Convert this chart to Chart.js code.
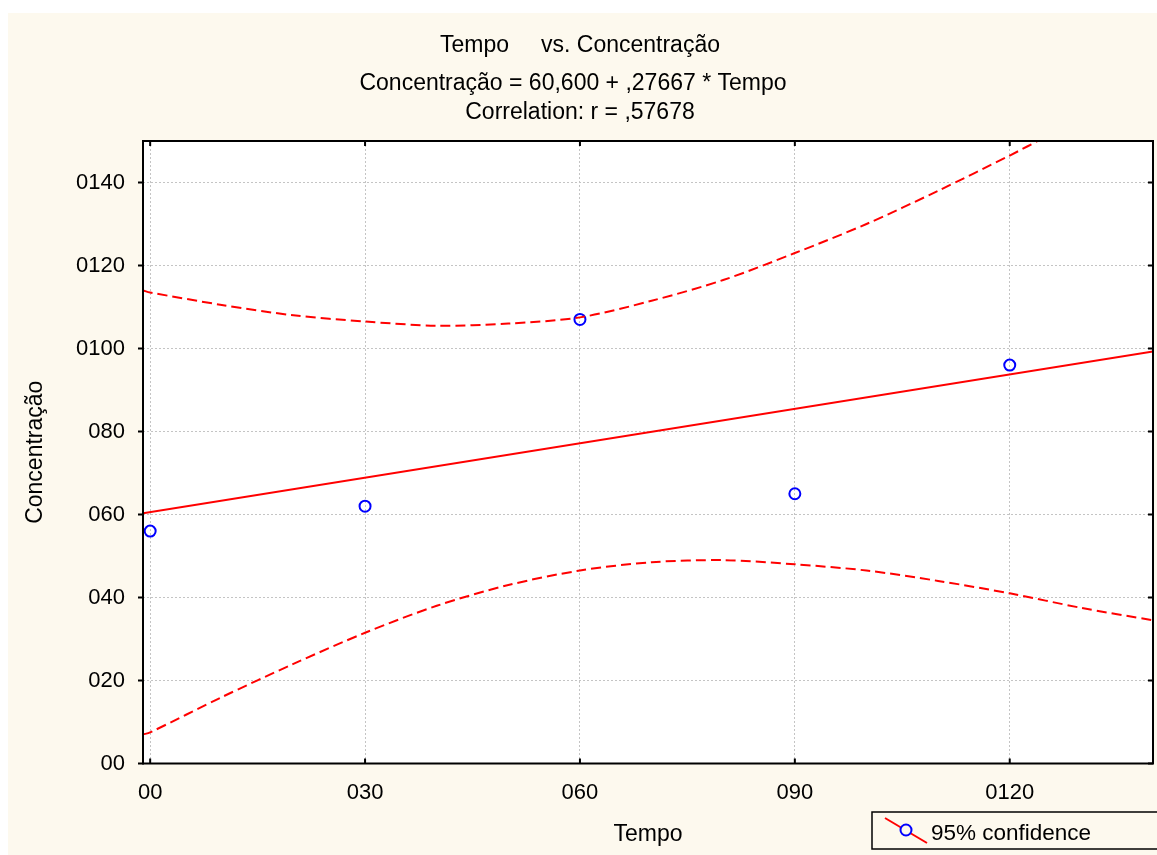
<!DOCTYPE html>
<html>
<head>
<meta charset="utf-8">
<title>Tempo vs. Concentração</title>
<script src="https://cdn.jsdelivr.net/npm/chart.js@4/dist/chart.umd.min.js"></script>
<style>
  html, body { margin: 0; padding: 0; background: #ffffff; }
  canvas { display: block; }
</style>
</head>
<body>
<canvas id="grafico" width="1157" height="855"></canvas>
<script>
// Observações
const tempo = [0, 30, 60, 90, 120];
const concentracao = [56, 62, 107, 65, 96];

// Reta ajustada nos extremos do eixo X
const retaX = [-1, 140];
const retaY = [60.3, 99.3];

// Faixa de confiança de 95% (limite superior e inferior)
const supX = [-1, 0, 10, 20, 30, 40, 50, 60, 70, 80, 90, 100, 110, 120, 125];
const supY = [114, 113.5, 110.5, 108, 106.5, 105.5, 106, 107.5, 111.5, 116.5, 123, 130, 138, 146.5, 151];
const infX = [-1, 0, 10, 20, 30, 40, 50, 60, 70, 80, 90, 100, 110, 120, 130, 140];
const infY = [7, 7.5, 16, 24, 31.5, 38, 43, 46.5, 48.5, 49, 48, 46.5, 44, 41, 37.5, 34.5];

// Marcas dos eixos
const xTickValues = [0, 30, 60, 90, 120];
const xTickLabels = ['00', '030', '060', '090', '0120'];
const yTickValues = [0, 20, 40, 60, 80, 100, 120, 140];
const yTickLabels = ['00', '020', '040', '060', '080', '0100', '0120', '0140'];

const titulos = [
  'Tempo     vs. Concentração',
  'Concentração = 60,600 + ,27667 * Tempo',
  'Correlation: r = ,57678'
];

const FONTE = '"Liberation Sans", Arial, sans-serif';
Chart.defaults.font.family = FONTE;
Chart.defaults.font.size = 22;
Chart.defaults.color = '#000000';

const pontos = (xs, ys) => xs.map((x, i) => ({ x: x, y: ys[i] }));

// Fundo, moldura, marcas, títulos e legenda
const moldura = {
  id: 'moldura',
  beforeDraw(chart) {
    const ctx = chart.ctx;
    const a = chart.chartArea;
    ctx.save();
    ctx.fillStyle = '#ffffff';
    ctx.fillRect(0, 0, chart.width, chart.height);
    ctx.fillStyle = '#fdf9ee';
    ctx.fillRect(8, 13, chart.width - 8, chart.height - 13);
    ctx.fillStyle = '#ffffff';
    ctx.fillRect(a.left, a.top, a.right - a.left, a.bottom - a.top);
    ctx.restore();
  },
  afterDraw(chart) {
    const ctx = chart.ctx;
    const a = chart.chartArea;
    const sx = chart.scales.x;
    const sy = chart.scales.y;
    ctx.save();

    // títulos
    ctx.fillStyle = '#000000';
    ctx.font = '23px ' + FONTE;
    ctx.textAlign = 'center';
    ctx.textBaseline = 'alphabetic';
    ctx.fillText(titulos[0], 580, 52);
    ctx.fillText(titulos[1], 573, 90);
    ctx.fillText(titulos[2], 580, 119);

    // moldura
    ctx.strokeStyle = '#000000';
    ctx.lineWidth = 2;
    ctx.strokeRect(a.left, a.top, a.right - a.left, a.bottom - a.top);

    // marcas
    ctx.lineWidth = 2;
    ctx.beginPath();
    xTickValues.forEach(v => {
      const px = sx.getPixelForValue(v);
      ctx.moveTo(px, a.bottom); ctx.lineTo(px, a.bottom - 5);
      ctx.moveTo(px, a.top); ctx.lineTo(px, a.top + 5);
    });
    yTickValues.forEach(v => {
      const py = sy.getPixelForValue(v);
      ctx.moveTo(a.left - 5, py); ctx.lineTo(a.left + 1, py);
      ctx.moveTo(a.right, py); ctx.lineTo(a.right - 5, py);
    });
    ctx.stroke();

    // legenda
    ctx.fillStyle = '#fdf9ee';
    ctx.fillRect(872, 812, 300, 37);
    ctx.strokeStyle = '#000000';
    ctx.lineWidth = 1.5;
    ctx.strokeRect(872, 812, 300, 37);
    ctx.strokeStyle = '#ff0000';
    ctx.lineWidth = 2;
    ctx.beginPath();
    ctx.moveTo(885, 818); ctx.lineTo(927, 843);
    ctx.stroke();
    ctx.strokeStyle = '#0000ff';
    ctx.beginPath();
    ctx.arc(906, 830, 5.5, 0, Math.PI * 2);
    ctx.fillStyle = '#fdf9ee';
    ctx.fill();
    ctx.stroke();
    ctx.fillStyle = '#000000';
    ctx.font = '22.5px ' + FONTE;
    ctx.textAlign = 'left';
    ctx.fillText('95% confidence', 931, 840);

    ctx.restore();
  }
};

const grafico = new Chart(document.getElementById('grafico'), {
  type: 'scatter',
  data: {
    datasets: [
      {
        label: 'Reta',
        data: pontos(retaX, retaY),
        showLine: true,
        borderColor: '#ff0000',
        borderWidth: 2,
        pointRadius: 0
      },
      {
        label: 'Limite superior',
        data: pontos(supX, supY),
        showLine: true,
        borderColor: '#ff0000',
        borderWidth: 2,
        borderDash: [10, 5],
        tension: 0.3,
        pointRadius: 0
      },
      {
        label: 'Limite inferior',
        data: pontos(infX, infY),
        showLine: true,
        borderColor: '#ff0000',
        borderWidth: 2,
        borderDash: [10, 5],
        tension: 0.3,
        pointRadius: 0
      },
      {
        label: '95% confidence',
        data: pontos(tempo, concentracao),
        pointRadius: 5.5,
        pointBorderWidth: 2,
        pointBorderColor: '#0000ff',
        pointBackgroundColor: 'rgba(0,0,0,0)'
      }
    ]
  },
  options: {
    responsive: false,
    animation: false,
    layout: { autoPadding: false, padding: { top: 141, right: 4, bottom: 0, left: 0 } },
    plugins: {
      legend: { display: false },
      tooltip: { enabled: false },
      title: { display: false }
    },
    scales: {
      x: {
        type: 'linear',
        min: -1,
        max: 140,
        afterFit: s => { s.height = 91.5; s.paddingLeft = 0; s.paddingRight = 0; },
        afterBuildTicks: s => { s.ticks = xTickValues.map(v => ({ value: v })); },
        ticks: {
          padding: 16,
          maxRotation: 0,
          autoSkip: false,
          callback: (v, i) => xTickLabels[i]
        },
        grid: { color: '#c4c4c4', lineWidth: 1, drawTicks: false },
        border: { display: false, dash: [2, 2] },
        title: { display: true, text: 'Tempo', font: { size: 23 }, padding: { top: 0, bottom: 7 } }
      },
      y: {
        type: 'linear',
        min: 0,
        max: 150,
        afterFit: s => { s.width = 143; s.paddingTop = 0; s.paddingBottom = 0; },
        afterBuildTicks: s => { s.ticks = yTickValues.map(v => ({ value: v })); },
        ticks: {
          padding: 18,
          autoSkip: false,
          callback: (v, i) => yTickLabels[i]
        },
        grid: { color: '#c4c4c4', lineWidth: 1, drawTicks: false },
        border: { display: false, dash: [2, 2] },
        title: { display: true, text: 'Concentração', font: { size: 23 }, padding: { top: 22, bottom: 0 } }
      }
    }
  },
  plugins: [moldura]
});
</script>
</body>
</html>
